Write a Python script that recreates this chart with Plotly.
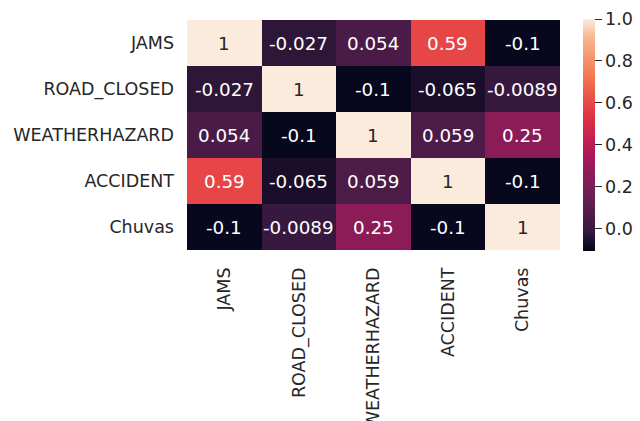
import plotly.graph_objects as go

# Correlation matrix between event types and rainfall
labels = ["JAMS", "ROAD_CLOSED", "WEATHERHAZARD", "ACCIDENT", "Chuvas"]
corr = [
    [1, -0.027, 0.054, 0.59, -0.1],
    [-0.027, 1, -0.1, -0.065, -0.0089],
    [0.054, -0.1, 1, 0.059, 0.25],
    [0.59, -0.065, 0.059, 1, -0.1],
    [-0.1, -0.0089, 0.25, -0.1, 1],
]
cbar_ticks = [0.0, 0.2, 0.4, 0.6, 0.8, 1.0]

# "rocket" sequential palette
rocket = [
    [0.0, "#03051a"],
    [1 / 12, "#35193e"],
    [3 / 12, "#701f57"],
    [5 / 12, "#ad1759"],
    [7 / 12, "#e13342"],
    [9 / 12, "#f37651"],
    [11 / 12, "#f6b48f"],
    [1.0, "#faebdd"],
]

zmin, zmax = -0.107, 1.0
dark = "#262626"
font = "DejaVu Sans"
tick_size = 17.5
annot_size = 18.3

fig = go.Figure(
    go.Heatmap(
        z=corr,
        x=labels,
        y=labels,
        colorscale=rocket,
        zmin=zmin,
        zmax=zmax,
        xgap=0,
        ygap=0,
        hoverinfo="skip",
        colorbar=dict(
            x=(583 - 187) / 373,
            xanchor="left",
            y=0.5,
            yanchor="middle",
            thicknessmode="pixels",
            thickness=12,
            lenmode="pixels",
            len=232,
            outlinewidth=0,
            tickvals=cbar_ticks,
            ticktext=[f"{v:.1f}" for v in cbar_ticks],
            ticks="outside",
            ticklen=7,
            tickwidth=1.3,
            tickcolor=dark,
            tickfont=dict(family=font, size=tick_size, color=dark),
            xpad=0,
            ypad=0,
        ),
    )
)

annotations = []
for i, row_name in enumerate(labels):
    for j, col_name in enumerate(labels):
        v = corr[i][j]
        frac = (v - zmin) / (zmax - zmin)
        annotations.append(
            dict(
                x=col_name,
                y=row_name,
                text=format(v, ".2g"),
                showarrow=False,
                font=dict(family=font, size=annot_size,
                          color=dark if frac > 0.75 else "white"),
            )
        )

fig.update_layout(
    width=640,
    height=421,
    margin=dict(l=187, r=80, t=20, b=171, autoexpand=False),
    paper_bgcolor="white",
    plot_bgcolor="white",
    font=dict(family=font, size=tick_size, color=dark),
    annotations=annotations,
    xaxis=dict(
        tickangle=-90,
        ticks="",
        showgrid=False,
        zeroline=False,
        automargin=False,
        ticklabelstandoff=13,
        tickfont=dict(family=font, size=tick_size, color=dark),
    ),
    yaxis=dict(
        autorange="reversed",
        ticks="",
        showgrid=False,
        zeroline=False,
        automargin=False,
        ticklabelstandoff=12,
        tickfont=dict(family=font, size=tick_size, color=dark),
    ),
)

fig.write_html("out.html")
